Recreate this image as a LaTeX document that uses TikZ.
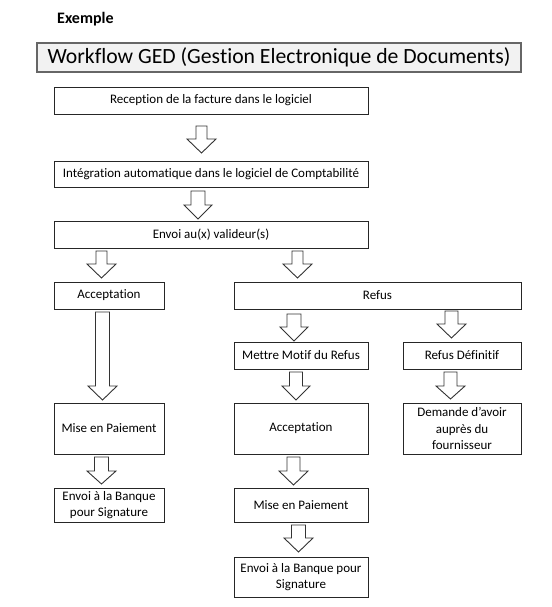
\documentclass[tikz,border=0pt]{standalone}
\usepackage{fontspec}
\setmainfont{Carlito}[Ligatures=NoCommon]
\tikzset{
  box/.style={draw=black!85, line width=0.9pt, fill=white, inner sep=1pt, align=center,
    font=\fontsize{13}{16.5}\selectfont},
  titlebox/.style={draw=black!60, line width=1.4pt, fill=black!5, inner sep=0pt,
    font=\fontsize{21.7}{24}\selectfont},
  blockarr/.style={draw=black!80, line width=0.9pt, fill=white, line join=miter},
}
\newcommand{\blockarrow}[6]{%
  \draw[blockarr] ({#1-#2},#4) -- ({#1+#2},#4) -- ({#1+#2},#5) -- ({#1+#3},#5)
    -- (#1,#6) -- ({#1-#3},#5) -- ({#1-#2},#5) -- cycle;}
\begin{document}
\begin{tikzpicture}[x=1pt,y=-1pt]
\useasboundingbox (0,0) rectangle (551,607);
\node[font=\bfseries\fontsize{16}{18}\selectfont, anchor=west, inner sep=0pt] (ex) at (57,19) {Exemple};
\node[titlebox, minimum width=484pt, minimum height=29pt] (title) at (279,57.5)
  {Workflow GED (Gestion Electronique de Documents)};
\node[box, minimum width=314pt, minimum height=27pt] (rec) at (211,100.5)
  {Reception de la facture dans le logiciel};
\node[box, minimum width=314pt, minimum height=26pt] (integ) at (211,174)
  {Intégration automatique dans le logiciel de Comptabilité};
\node[box, minimum width=314pt, minimum height=27pt] (envoi) at (211,234.5)
  {Envoi au(x) valideur(s)};
\node[box, minimum width=110pt, minimum height=27pt] (accL) at (109,295.5) {Acceptation};
\node[box, minimum width=287pt, minimum height=27pt] (refus) at (377.5,295.5) {Refus};
\node[box, minimum width=110pt, minimum height=51pt] (miseL) at (109,428.5) {Mise en Paiement};
\node[box, minimum width=110pt, minimum height=34pt] (envoiL) at (109,505)
  {Envoi à la Banque\\pour Signature};
\node[box, minimum width=134pt, minimum height=27pt] (mettre) at (301,355.5) {Mettre Motif du Refus};
\node[box, minimum width=118pt, minimum height=27pt] (refdef) at (462,355.5) {Refus Définitif};
\node[box, minimum width=134pt, minimum height=51pt] (accR) at (301,428.5) {Acceptation};
\node[box, minimum width=118pt, minimum height=51pt] (dem) at (462,428.5)
  {Demande d\char"0027avoir\\auprès du\\fournisseur};
\node[box, minimum width=134pt, minimum height=34pt] (miseR) at (301,505) {Mise en Paiement};
\node[box, minimum width=134pt, minimum height=40pt] (envoiR) at (301,577)
  {Envoi à la Banque pour\\Signature};
% block arrows: cx, shaft half width, head half width, top, head start, tip
\blockarrow{201.5}{5.5}{14.5}{126}{139}{153}
\blockarrow{198}{7}{14}{191}{205}{219}
\blockarrow{101.5}{5.5}{14.5}{251}{264}{278}
\blockarrow{297.5}{5.5}{14.5}{251}{264}{278}
\blockarrow{102.5}{7}{14.5}{312}{386}{400}
\blockarrow{101.5}{7}{14.5}{457}{471}{484}
\blockarrow{294}{7}{14}{314}{327}{341}
\blockarrow{451.5}{6.5}{14.5}{311}{324}{338}
\blockarrow{296}{6.5}{14}{372}{386}{400}
\blockarrow{450.5}{6.5}{14.5}{372}{386}{399}
\blockarrow{293.5}{6.5}{14.5}{457}{471}{485}
\blockarrow{298.5}{7}{14.5}{525}{538}{552}
\end{tikzpicture}
\end{document}
